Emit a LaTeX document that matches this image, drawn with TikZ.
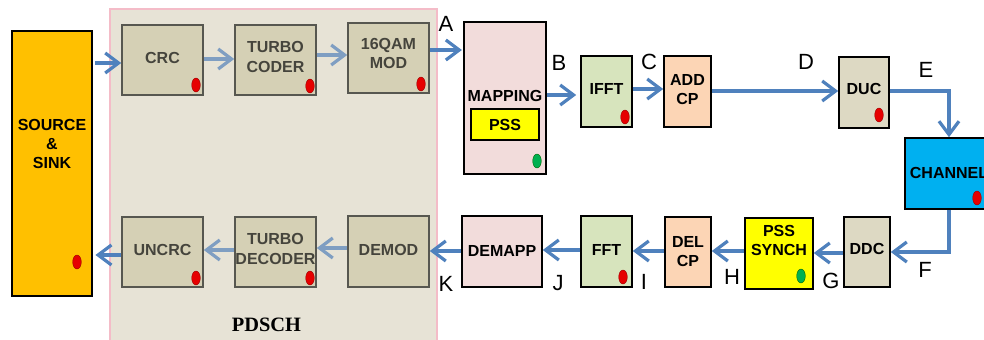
\documentclass[tikz,border=0pt]{standalone}
\usepackage{fontspec}
\newfontfamily\arialf{Liberation Sans}
\newfontfamily\timesf{Liberation Serif}
\usetikzlibrary{arrows.meta}
\definecolor{arrblue}{HTML}{4F81BD}
\definecolor{arrgray}{HTML}{7F9EC2}
\definecolor{pdschfill}{HTML}{E7E3D6}
\definecolor{pdschedge}{HTML}{F4BCC8}
\definecolor{tanfill}{HTML}{D5D0B5}
\definecolor{tanedge}{HTML}{575750}
\definecolor{intext}{HTML}{45443C}
\definecolor{pinkfill}{HTML}{F2DCDB}
\definecolor{greenfill}{HTML}{D7E4BD}
\definecolor{peachfill}{HTML}{FCD5B5}
\definecolor{khakifill}{HTML}{DDD9C3}
\definecolor{chanfill}{HTML}{00B0F0}
\definecolor{srcfill}{HTML}{FFC000}
\definecolor{pssfill}{HTML}{FFFF00}
\definecolor{reddot}{HTML}{E60000}
\definecolor{greendot}{HTML}{00B050}
\tikzset{
  box/.style={draw=black, line width=1.2pt, inner sep=0pt},
  inbox/.style={draw=tanedge, fill=tanfill, line width=1.2pt, inner sep=0pt},
  txt/.style={inner sep=0pt, align=center, font=\arialf\bfseries\fontsize{12}{14.5}\selectfont},
  arr/.style={line width=2.4pt, draw=arrblue, -{Straight Barb[length=10pt,width=15pt]}},
  arrg/.style={arr, draw=arrgray},
  lbl/.style={inner sep=0pt, font=\arialf\fontsize{16.5}{18}\selectfont},
  rdot/.style={fill=reddot, draw=red!60!black, line width=0.3pt},
  gdot/.style={fill=greendot, draw=green!40!black, line width=0.3pt}
}
% name, x1, y1, x2, y2, box style, text, text y, text colour
\newcommand\blk[9]{%
  \node[#6, minimum width={(#4-#2)*0.75pt}, minimum height={(#5-#3)*0.75pt}] (#1) at ({(#2+#4)/2},{(#3+#5)/2}) {};
  \node[txt, text=#9] (#1-t) at ({(#2+#4)/2},#8) {#7};}
\begin{document}
\begin{tikzpicture}[x=0.75pt, y=-0.75pt]
\useasboundingbox (0,0) rectangle (984,339);
\clip (0,0) rectangle (984,339);
\fill[white] (0,0) rectangle (984,339);
% PDSCH region
\node[draw=pdschedge, fill=pdschfill, line width=1.5pt, inner sep=0pt,
      minimum width={327*0.75pt}, minimum height={360*0.75pt}] (pdsch) at (273.5,189) {};
\node[inner sep=0pt, font=\timesf\bfseries\fontsize{15.3}{18}\selectfont] (pdsch-t) at (266.5,325) {PDSCH};
% source / sink
\blk{src}{12}{31}{92}{296}{box, fill=srcfill}{SOURCE\\\&\\SINK}{144}{black}
% transmit chain
\blk{crc}{122}{25}{203}{95}{inbox}{CRC}{58}{intext}
\blk{tcod}{235}{25}{316}{95}{inbox}{TURBO\\CODER}{57}{intext}
\blk{mod}{348}{23}{429}{93}{inbox}{16QAM\\MOD}{53.5}{intext}
\blk{map}{464}{22}{546}{174}{box, fill=pinkfill}{MAPPING}{96}{black}
\blk{pss}{471}{109}{539}{140}{box, fill=pssfill}{PSS}{124.5}{black}
\blk{ifft}{581}{56}{632}{127}{box, fill=greenfill}{IFFT}{89}{black}
\blk{addcp}{664}{56}{711}{127}{box, fill=peachfill}{ADD\\CP}{89.5}{black}
\blk{duc}{839}{57}{889}{128}{box, fill=khakifill}{DUC}{89}{black}
\blk{chan}{905}{138}{993}{209}{box, fill=chanfill}{CHANNEL}{173}{black}
% receive chain
\blk{ddc}{844}{217}{890}{287}{box, fill=khakifill}{DDC}{249}{black}
\blk{psss}{745}{218}{813}{289}{box, fill=pssfill}{PSS\\SYNCH}{240.5}{black}
\blk{delcp}{665}{217}{711}{287}{box, fill=peachfill}{DEL\\CP}{251.5}{black}
\blk{fft}{581}{216}{632}{287}{box, fill=greenfill}{FFT}{250}{black}
\blk{demapp}{462}{216}{542}{287}{box, fill=pinkfill}{DEMAPP}{251}{black}
\blk{demod}{348}{216}{429}{287}{inbox}{DEMOD}{250}{intext}
\blk{tdec}{235}{217}{316}{287}{inbox}{TURBO\\DECODER}{249}{intext}
\blk{uncrc}{122}{217}{203}{287}{inbox}{UNCRC}{250}{intext}
% dots
\fill[rdot] (77,262) ellipse (4.3 and 7);
\fill[rdot] (196,85) ellipse (4.3 and 7);
\fill[rdot] (310,86) ellipse (4.3 and 7);
\fill[rdot] (421,84) ellipse (4.3 and 7);
\fill[gdot] (537,161) ellipse (4.3 and 7);
\fill[rdot] (625,117) ellipse (4.3 and 7);
\fill[rdot] (879,115) ellipse (4.3 and 7);
\fill[rdot] (977,198) ellipse (4.3 and 7);
\fill[gdot] (801,276) ellipse (4.3 and 7);
\fill[rdot] (623,277) ellipse (4.3 and 7);
\fill[rdot] (310,278) ellipse (4.3 and 7);
\fill[rdot] (196,278) ellipse (4.3 and 7);
% connectors, transmit
\draw[arr, shorten <=2pt] (src.east |- 0,63) -- (crc.west |- 0,63);
\draw[arrg] (crc.east |- 0,59) -- (tcod.west |- 0,59);
\draw[arrg] (tcod.east |- 0,55) -- (mod.west |- 0,55);
\draw[arr, shorten >=1pt] (mod.east |- 0,50) -- (map.west |- 0,50);
\draw[arr, shorten >=3pt] (map.east |- 0,95) -- (ifft.west |- 0,95);
\draw[arr] (ifft.east |- 0,89) -- (addcp.west |- 0,89);
\draw[arr] (addcp.east |- 0,91) -- (duc.west |- 0,91);
\draw[arr] (duc.east |- 0,91) -| (chan.north);
% connectors, receive
\draw[arr] (chan.south) |- (ddc.east |- 0,252);
\draw[arr] (ddc.west |- 0,253) -- (psss.east |- 0,253);
\draw[arr] (psss.west |- 0,251) -- (delcp.east |- 0,251);
\draw[arr] (delcp.west |- 0,251) -- (fft.east |- 0,251);
\draw[arr] (fft.west |- 0,250) -- (demapp.east |- 0,250);
\draw[arr] (demapp.west |- 0,251) -- (demod.east |- 0,251);
\draw[arrg] (demod.west |- 0,248) -- (tdec.east |- 0,248);
\draw[arrg] (tdec.west |- 0,250) -- (uncrc.east |- 0,250);
\draw[arr, shorten >=2pt] (uncrc.west |- 0,255) -- (src.east |- 0,255);
% point labels
\node[lbl] (lA) at (446,24) {A};
\node[lbl] (lB) at (559,63) {B};
\node[lbl] (lC) at (649,62) {C};
\node[lbl] (lD) at (806,62) {D};
\node[lbl] (lE) at (926,70) {E};
\node[lbl] (lF) at (925,270) {F};
\node[lbl] (lG) at (831,281) {G};
\node[lbl] (lH) at (732,277) {H};
\node[lbl] (lI) at (644,282) {I};
\node[lbl] (lJ) at (558,283) {J};
\node[lbl] (lK) at (446,284) {K};
\end{tikzpicture}
\end{document}
